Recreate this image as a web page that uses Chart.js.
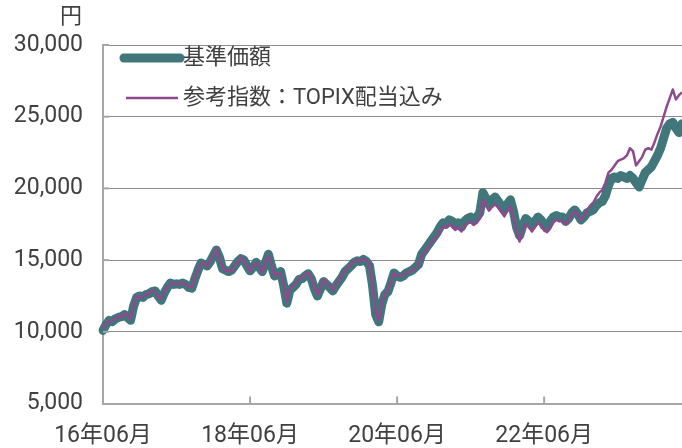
<!DOCTYPE html>
<html>
<head>
<meta charset="utf-8">
<script src="https://cdn.jsdelivr.net/npm/chart.js@4.4.1/dist/chart.umd.min.js"></script>
<style>
html,body{margin:0;padding:0;background:#fff;}
#wrap{width:682px;height:448px;position:relative;}
</style>
</head>
<body>
<div id="wrap"><canvas id="c" width="682" height="448"></canvas></div>
<script>
// ---- data ----
const startYear = 2016, startMonth = 6, halfMonths = 190;
const tickLabels = ["16年06月", "18年06月", "20年06月", "22年06月"];
const seriesNames = ["基準価額", "参考指数：TOPIX配当込み"];
const unitLabel = "円";

// 基準価額 (semi-monthly)
const navValues = [
  10100,10500, 10800,10700, 10900,11000, 11050,11200, 11000,10800,
  11800,12400, 12500,12400, 12600,12650, 12800,12850, 12500,12200,
  12700,13100, 13400,13300, 13350,13300, 13400,13300, 13100,13050,
  13700,14300, 14800,14700, 14600,14900, 15300,15700, 15200,14400,
  14300,14200, 14300,14600, 14900,15100, 15000,14600, 14250,14500,
  14850,14500, 14200,14800, 15400,14600, 13900,14000, 14200,13200,
  12000,12900, 13100,13300, 13650,13700, 13900,14050, 13700,13000,
  12500,13000, 13500,13300, 13100,12850, 13200,13500, 13800,14200,
  14400,14600, 14850,14950, 14900,15050, 14900,14600, 13200,11200,
  10700,11900, 12600,12800, 13400,14100, 13900,13800, 13900,14100,
  14200,14300, 14500,14700, 15400,15700, 16000,16300, 16600,16900,
  17300,17600, 17500,17800, 17700,17400, 17600,17300, 17700,17900,
  18000,17800, 18000,18300, 19700,19300, 18900,19200, 19400,19100,
  18800,18500, 18900,19200, 18400,17300, 16700,17400, 17900,17700,
  17400,17700, 18000,17800, 17400,17300, 17700,18000, 18100,18000,
  18000,17700, 17900,18300, 18500,18200, 17800,18000, 18300,18400,
  18500,18800, 19000,19100, 19500,20200, 20700,20800, 20700,20900,
  20800,20700, 20900,20700, 20400,20100, 20600,21100, 21300,21500,
  21900,22300, 22800,23500, 24200,24500, 24600,24200, 23900,24500
];

// 参考指数：TOPIX配当込み (semi-monthly)
const topixValues = [
  10200,10600, 10700,10800, 10900,11100, 11000,11300, 11100,10900,
  11900,12500, 12400,12500, 12600,12700, 12900,12800, 12400,12300,
  12800,13100, 13350,13400, 13300,13350, 13450,13250, 13150,13100,
  13800,14300, 14750,14800, 14550,15000, 15300,15800, 15100,14500,
  14200,14300, 14200,14700, 14800,15200, 14900,14700, 14200,14600,
  14800,14600, 14100,14900, 15300,14700, 13900,14100, 14100,13300,
  12100,13000, 13200,13400, 13700,13800, 14000,14100, 13800,13100,
  12600,13100, 13600,13400, 13200,12900, 13300,13600, 13900,14300,
  14500,14700, 14900,15050, 14950,15100, 14950,14700, 13300,11300,
  10800,12000, 12700,12900, 13500,14100, 13900,13900, 13950,14100,
  14200,14300, 14450,14650, 15250,15550, 15850,16150, 16400,16700,
  17050,17350, 17250,17500, 17400,17100, 17300,17000, 17350,17550,
  17650,17450, 17600,17900, 19200,18800, 18450,18700, 18900,18650,
  18350,18050, 18450,18750, 17900,16900, 16300,17000, 17500,17300,
  17000,17300, 17600,17400, 17050,16950, 17350,17650, 17800,17700,
  17750,17500, 17750,18150, 18400,18150, 17800,18100, 18500,18800,
  19000,19400, 19700,19900, 20400,21100, 21300,21600, 21900,22000,
  22100,22300, 22800,22600, 21600,21900, 22200,22700, 22800,22700,
  23200,23800, 24300,25000, 25700,26300, 26900,26200, 26500,26700
];

// categories: half-month dates
const dates = [];
for (let i = 0; i < halfMonths; i++) {
  const mIdx = Math.floor(i / 2);
  const y = startYear + Math.floor((startMonth - 1 + mIdx) / 12);
  const m = ((startMonth - 1 + mIdx) % 12) + 1;
  dates.push(y + "/" + String(m).padStart(2, "0") + (i % 2 ? "/16" : "/01"));
}

const TEAL = "#41767b";
const PURPLE = "#8e4a8c";
const TEXT = "#404040";
const AXIS = "#a6a6a6";
const FONT = "Roboto, 'Noto Sans CJK JP', sans-serif";

const decorPlugin = {
  id: "decor",
  afterDraw(chart) {
    const ctx = chart.ctx;
    const area = chart.chartArea;
    const xs = chart.scales.x, ys = chart.scales.y;
    ctx.save();
    // inward tick marks
    ctx.strokeStyle = AXIS;
    ctx.lineWidth = 2;
    ys.ticks.forEach(t => {
      if (t.value <= ys.min) return;
      const py = ys.getPixelForValue(t.value);
      ctx.beginPath(); ctx.moveTo(area.left, py); ctx.lineTo(area.left + 6, py); ctx.stroke();
    });
    for (let k = 1; k < tickLabels.length; k++) {
      const px = xs.getPixelForValue(k * 48);
      ctx.beginPath(); ctx.moveTo(px, area.bottom); ctx.lineTo(px, area.bottom - 7); ctx.stroke();
    }
    // unit label
    ctx.fillStyle = TEXT;
    ctx.font = "22px " + FONT;
    ctx.textAlign = "right";
    ctx.textBaseline = "middle";
    ctx.fillText(unitLabel, 82, 17);
    // legend
    const ds = chart.data.datasets;
    const rows = [{y: 58, x0: 124, x1: 180}, {y: 98, x0: 126, x1: 178}];
    ds.forEach((d, i) => {
      const r = rows[i];
      ctx.strokeStyle = d.borderColor;
      ctx.lineWidth = d.borderWidth;
      ctx.lineCap = d.borderCapStyle || "butt";
      ctx.beginPath(); ctx.moveTo(r.x0, r.y); ctx.lineTo(r.x1, r.y); ctx.stroke();
      ctx.fillStyle = TEXT;
      ctx.textAlign = "left";
      ctx.font = "22px " + FONT;
      ctx.fillText(d.label, 183, r.y);
    });
    ctx.restore();
  }
};

new Chart(document.getElementById("c"), {
  type: "line",
  data: {
    labels: dates,
    datasets: [
      {
        label: seriesNames[0], data: navValues,
        borderColor: TEAL, borderWidth: 9, borderCapStyle: "round", borderJoinStyle: "round",
        pointRadius: 0, tension: 0, order: 2
      },
      {
        label: seriesNames[1], data: topixValues,
        borderColor: PURPLE, borderWidth: 2.5, borderCapStyle: "butt", borderJoinStyle: "round",
        pointRadius: 0, tension: 0, order: 1
      }
    ]
  },
  options: {
    responsive: false,
    animation: false,
    events: [],
    layout: { padding: { top: 45, right: 0, left: 0, bottom: 0 } },
    plugins: { legend: { display: false }, tooltip: { enabled: false } },
    scales: {
      x: {
        type: "category",
        offset: false,
        border: { display: true, color: AXIS, width: 2 },
        grid: { display: false, drawTicks: false },
        ticks: {
          autoSkip: false, maxRotation: 0, minRotation: 0, padding: 19,
          color: TEXT, font: { family: FONT, size: 23 },
          callback: (v, i) => (i % 48 === 0 ? tickLabels[i / 48] : "")
        },
        afterFit: s => { s.height = 44.5; s.paddingRight = 0; s.paddingLeft = 0; }
      },
      y: {
        min: 5000, max: 30000,
        border: { display: true, color: AXIS, width: 2 },
        grid: {
          drawTicks: false, color: c => (c.tick.value === 5000 ? "rgba(0,0,0,0)" : "#8c8c8c"),
          lineWidth: 1
        },
        ticks: {
          stepSize: 5000, padding: 20, color: TEXT, font: { family: FONT, size: 23 },
          callback: v => v.toLocaleString("en-US")
        },
        afterFit: s => { s.width = 103; s.paddingTop = 0; s.paddingBottom = 0; }
      }
    }
  },
  plugins: [decorPlugin, {
    id: "dash",
    beforeDraw(chart) { chart.scales.y.options.grid.borderDash = [3, 3]; }
  }]
});
</script>
</body>
</html>
